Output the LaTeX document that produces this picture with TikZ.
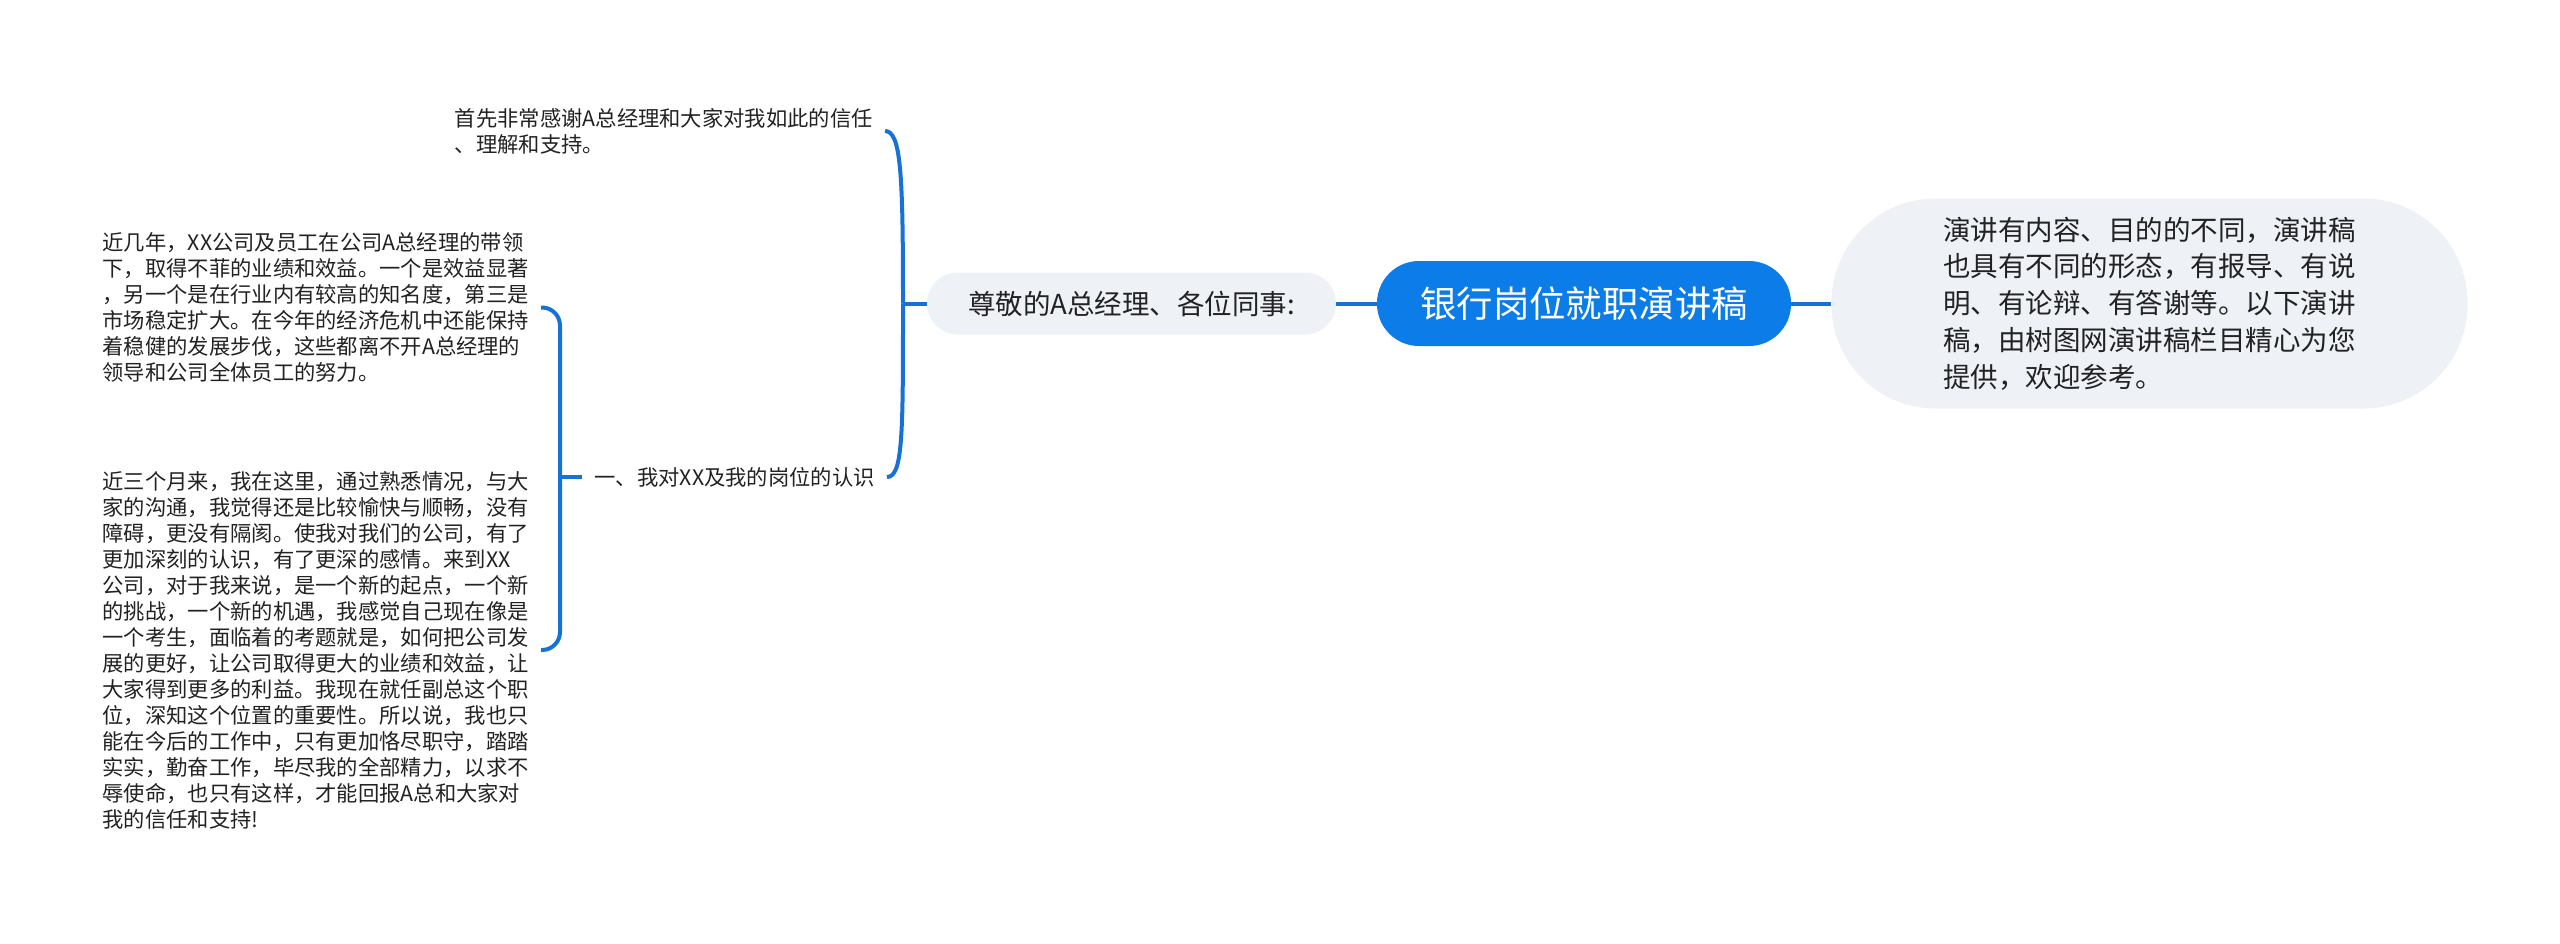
\documentclass[tikz,border=0pt]{standalone}
\usepackage{fontspec}
\newfontfamily\cjkfont{Noto Sans CJK SC}

\begin{document}
\begin{tikzpicture}[
    x=0.5pt, y=-0.5pt,
    every node/.style={font=\cjkfont, text={rgb,255:red,34;green,34;blue,34}},
    rootbox/.style={
        rectangle, rounded corners=21pt,
        fill={rgb,255:red,12;green,124;blue,232},
        minimum width=207pt, minimum height=42.5pt,
        text=white, font=\cjkfont\fontsize{18.2pt}{22pt}\selectfont
    },
    subbox/.style={
        rectangle, fill={rgb,255:red,238;green,241;blue,245},
        align=left, font=\cjkfont\fontsize{13.75pt}{18.4pt}\selectfont
    },
    leaf/.style={
        inner xsep=6pt, inner ysep=2pt, align=left,
        font=\cjkfont\fontsize{10.65pt}{13pt}\selectfont
    },
    link/.style={draw={rgb,255:red,22;green,114;blue,214}, line width=2pt}
]

%% ── Canvas ─────────────────────────────────────────────────────────
\fill[white] (0,0) rectangle (2560,943);

%% ── Central topic and first level ──────────────────────────────────
\node[rootbox] (root) at (1584, 303.5) {银行岗位就职演讲稿};

\node[subbox, rounded corners=15.5pt,
      minimum width=204.5pt, minimum height=31pt]
    (greet) at (1131.5, 303.5) {尊敬的A总经理、各位同事:};

\node[subbox, rounded corners=52pt,
      minimum width=318pt, minimum height=105pt]
    (intro) at (2149.5, 303.5)
    {演讲有内容、目的的不同，演讲稿\\
     也具有不同的形态，有报导、有说\\
     明、有论辩、有答谢等。以下演讲\\
     稿，由树图网演讲稿栏目精心为您\\
     提供，欢迎参考。};

%% ── Second level (left of greeting) ────────────────────────────────
\node[leaf, anchor=east] (thanks) at (885, 131)
    {首先非常感谢A总经理和大家对我如此的信任\\
     、理解和支持。};

\node[leaf, anchor=east] (role) at (887, 477) {一、我对XX及我的岗位的认识};

%% ── Third level (left of role) ─────────────────────────────────────
\node[leaf, anchor=east] (recent) at (541, 307.5)
    {近几年，XX公司及员工在公司A总经理的带领\\
     下，取得不菲的业绩和效益。一个是效益显著\\
     ，另一个是在行业内有较高的知名度，第三是\\
     市场稳定扩大。在今年的经济危机中还能保持\\
     着稳健的发展步伐，这些都离不开A总经理的\\
     领导和公司全体员工的努力。};

\node[leaf, anchor=east] (months) at (541, 650)
    {近三个月来，我在这里，通过熟悉情况，与大\\
     家的沟通，我觉得还是比较愉快与顺畅，没有\\
     障碍，更没有隔阂。使我对我们的公司，有了\\
     更加深刻的认识，有了更深的感情。来到XX\\
     公司，对于我来说，是一个新的起点，一个新\\
     的挑战，一个新的机遇，我感觉自己现在像是\\
     一个考生，面临着的考题就是，如何把公司发\\
     展的更好，让公司取得更大的业绩和效益，让\\
     大家得到更多的利益。我现在就任副总这个职\\
     位，深知这个位置的重要性。所以说，我也只\\
     能在今后的工作中，只有更加恪尽职守，踏踏\\
     实实，勤奋工作，毕尽我的全部精力，以求不\\
     辱使命，也只有这样，才能回报A总和大家对\\
     我的信任和支持!};

%% ── Connectors ─────────────────────────────────────────────────────
\coordinate (fork1) at (903, 303.5);
\coordinate (fork2) at (560, 477);

\draw[link] (root.west) -- (greet.east);
\draw[link] (root.east) -- (intro.west);

\draw[link] (greet.west) -- (fork1);
\draw[link] (fork1) .. controls +(0,-130) and +(16,0) .. (thanks.east);
\draw[link] (fork1) .. controls +(0,130) and +(16,0) .. (role.east);

\draw[link] (role.west) -- (fork2);
\draw[link, rounded corners=9pt] (recent.east) -| (fork2) |- (months.east);

\end{tikzpicture}
\end{document}
